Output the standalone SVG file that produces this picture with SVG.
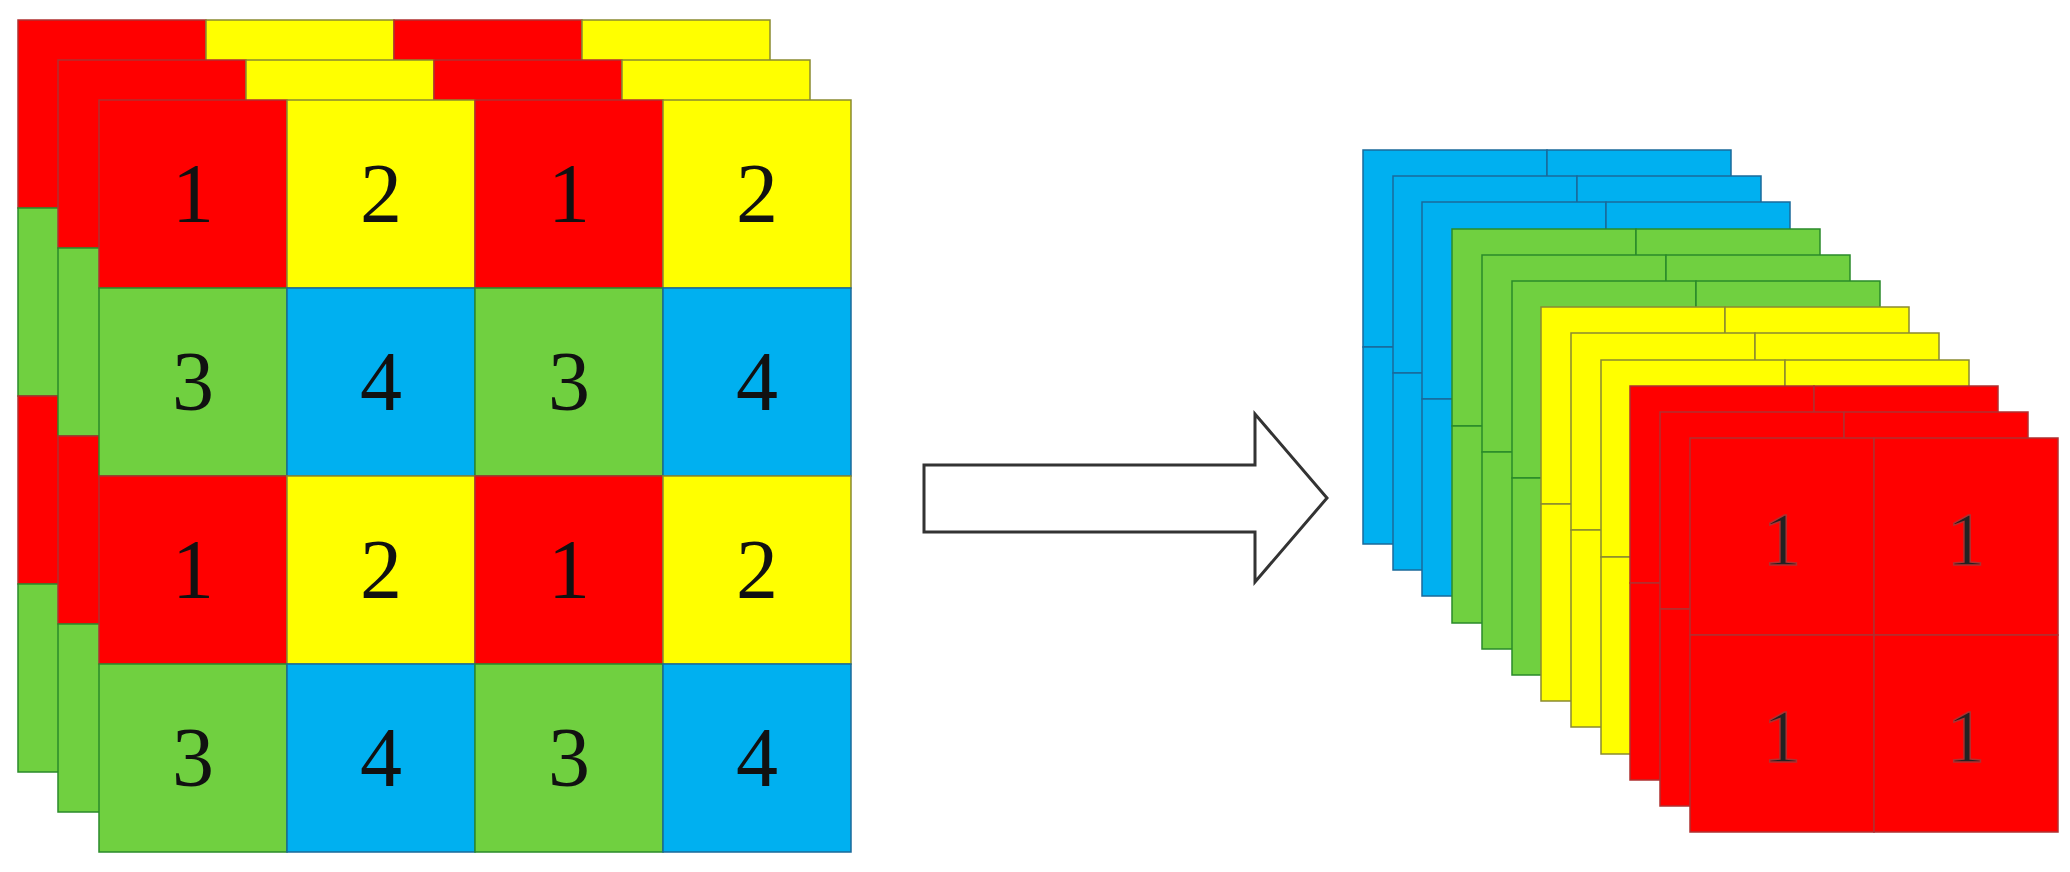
<svg xmlns="http://www.w3.org/2000/svg" xmlns:xlink="http://www.w3.org/1999/xlink" width="2070" height="872" viewBox="0 0 2070 872">
<style>
.r{fill:#ff0000;stroke:#b03030;stroke-width:1.5}
.y{fill:#ffff00;stroke:#8a8a30;stroke-width:1.5}
.g{fill:#70d040;stroke:#2a8a2a;stroke-width:1.5}
.b{fill:#00b0f0;stroke:#1a6a9a;stroke-width:1.5}
.t{font-family:"Liberation Serif",serif;font-size:84px;fill:#111;text-anchor:middle}
.t2{font-family:"Liberation Serif",serif;font-size:76px;fill:#222;text-anchor:middle}
</style>
<defs>
<g id="grid">
<rect class="r" x="0" y="0" width="188" height="188"/><rect class="y" x="188" y="0" width="188" height="188"/><rect class="r" x="376" y="0" width="188" height="188"/><rect class="y" x="564" y="0" width="188" height="188"/>
<rect class="g" x="0" y="188" width="188" height="188"/><rect class="b" x="188" y="188" width="188" height="188"/><rect class="g" x="376" y="188" width="188" height="188"/><rect class="b" x="564" y="188" width="188" height="188"/>
<rect class="r" x="0" y="376" width="188" height="188"/><rect class="y" x="188" y="376" width="188" height="188"/><rect class="r" x="376" y="376" width="188" height="188"/><rect class="y" x="564" y="376" width="188" height="188"/>
<rect class="g" x="0" y="564" width="188" height="188"/><rect class="b" x="188" y="564" width="188" height="188"/><rect class="g" x="376" y="564" width="188" height="188"/><rect class="b" x="564" y="564" width="188" height="188"/>
</g>
<g id="cellB"><rect x="0" y="0" width="184" height="197"/><rect x="184" y="0" width="184" height="197"/><rect x="0" y="197" width="184" height="197"/><rect x="184" y="197" width="184" height="197"/></g>
</defs>
<g id="input-layer-back"><use href="#grid" x="18" y="20"/></g>
<g id="input-layer-mid"><use href="#grid" x="58" y="60"/></g>
<g id="input-layer-front"><use href="#grid" x="99" y="100"/>
<text class="t" x="193" y="222">1</text><text class="t" x="381" y="222">2</text><text class="t" x="569" y="222">1</text><text class="t" x="757" y="222">2</text>
<text class="t" x="193" y="410">3</text><text class="t" x="381" y="410">4</text><text class="t" x="569" y="410">3</text><text class="t" x="757" y="410">4</text>
<text class="t" x="193" y="598">1</text><text class="t" x="381" y="598">2</text><text class="t" x="569" y="598">1</text><text class="t" x="757" y="598">2</text>
<text class="t" x="193" y="786">3</text><text class="t" x="381" y="786">4</text><text class="t" x="569" y="786">3</text><text class="t" x="757" y="786">4</text>
</g>
<g id="connectors">
<path d="M924 465 H1255 V414 L1327 498 L1255 582 V532 H924 Z" fill="#fff" stroke="#333" stroke-width="3" stroke-linejoin="miter"/>
</g>
<g id="out-blue-1" class="b"><use href="#cellB" x="1363" y="150"/></g>
<g id="out-blue-2" class="b"><use href="#cellB" x="1393" y="176"/></g>
<g id="out-blue-3" class="b"><use href="#cellB" x="1422" y="202"/></g>
<g id="out-green-1" class="g"><use href="#cellB" x="1452" y="229"/></g>
<g id="out-green-2" class="g"><use href="#cellB" x="1482" y="255"/></g>
<g id="out-green-3" class="g"><use href="#cellB" x="1512" y="281"/></g>
<g id="out-yellow-1" class="y"><use href="#cellB" x="1541" y="307"/></g>
<g id="out-yellow-2" class="y"><use href="#cellB" x="1571" y="333"/></g>
<g id="out-yellow-3" class="y"><use href="#cellB" x="1601" y="360"/></g>
<g id="out-red-1" class="r"><use href="#cellB" x="1630" y="386"/></g>
<g id="out-red-2" class="r"><use href="#cellB" x="1660" y="412"/></g>
<g id="out-red-3" class="r"><use href="#cellB" x="1690" y="438"/>
<text class="t2" x="1782" y="565">1</text><text class="t2" x="1966" y="565">1</text>
<text class="t2" x="1782" y="762">1</text><text class="t2" x="1966" y="762">1</text>
</g>
</svg>
